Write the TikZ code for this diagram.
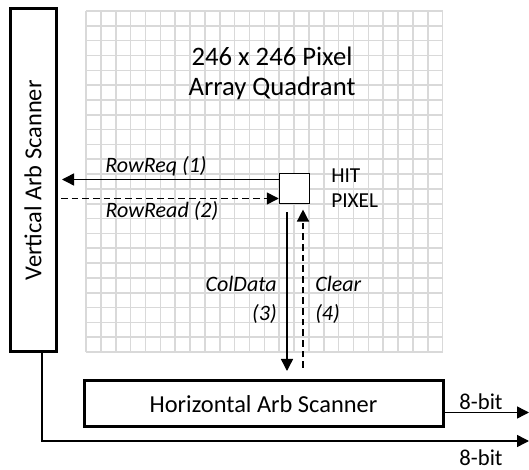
\documentclass[tikz,border=0pt]{standalone}
\usepackage{fontspec}
\setmainfont{Carlito}
\usepackage{xcolor}
\usepackage{tikz}
\usetikzlibrary{arrows.meta}

\begin{document}
\begin{tikzpicture}[x=0.75pt, y=0.75pt,
    gridline/.style={gray!30, line width=1.2pt},
    scanner/.style={draw, line width=2.25pt, inner sep=0pt, font=\fontsize{18.3}{22}\selectfont},
    sig/.style={line width=1.1pt, -{Triangle[length=9pt,width=9pt]}},
    dsig/.style={sig, dash pattern=on 5pt off 3pt},
    lbl/.style={inner sep=0pt, font=\fontsize{16.5}{22}\selectfont\itshape},
    txt/.style={inner sep=0pt, font=\fontsize{16}{19}\selectfont}]
    \useasboundingbox (0,0) rectangle (529,-470);

    % Pixel array grid
    \foreach \i in {0,...,24}
        \draw[gridline] ({86+14.86*\i},-11) -- ++(0,-341);
    \foreach \j in {0,...,23}
        \draw[gridline] (86,{-11-14.83*\j}) -- ++(356.6,0);
    \node[inner sep=0pt, align=center, font=\fontsize{20}{22.5}\selectfont] (title) at (272,-73)
        {246 x 246 Pixel\\Array Quadrant};

    % Scanners (sizes in pt: 1px = 0.75pt)
    \node[scanner, minimum width=34.5pt, minimum height=257.25pt] (vscan) at (33,-180.5)
        {\rotatebox{90}{Vertical Arb Scanner}};
    \node[scanner, minimum width=269.25pt, minimum height=34.5pt] (hscan) at (263.5,-404)
        {Horizontal Arb Scanner};

    % Hit pixel
    \node[draw, fill=white, line width=1.1pt, minimum size=22.5pt, inner sep=0pt] (hit) at (294.5,-188.5) {};
    \node[txt, anchor=west, align=left] (hitlbl) at (331,-188) {HIT\\PIXEL};

    % Row handshake
    \coordinate (reqtip) at (62,-179.5);
    \coordinate (readfoot) at (61,-198.5);
    \draw[sig] (hit.west |- reqtip) -- (reqtip);
    \draw[dsig] (readfoot) -- (hit.west |- readfoot);
    \node[lbl] (req) at (156,-166) {RowReq (1)};
    \node[lbl] (read) at (162,-211) {RowRead (2)};

    % Column handshake
    \coordinate (datatip) at (287,-371);
    \coordinate (clearfoot) at (303,-368);
    \draw[sig] ([yshift=-6pt]hit.south -| datatip) -- (datatip);
    \draw[dsig] (clearfoot) -- ([yshift=-4pt]hit.south -| clearfoot);
    \node[lbl, anchor=east, align=right] (data) at (277,-300) {ColData\\(3)};
    \node[lbl, anchor=west, align=left] (clear) at (315,-300) {Clear\\(4)};

    % Outputs
    \coordinate (outtip) at (529,-412.5);
    \coordinate (busturn) at (42,-441);
    \coordinate (bustip) at (529,-441);
    \draw[sig] (hscan.east |- outtip) -- (outtip);
    \draw[sig] (vscan.south -| busturn) -- (busturn) -- (bustip);
    \node[txt, font=\fontsize{17}{20}\selectfont] (hbits) at (481,-402) {8-bit};
    \node[txt, font=\fontsize{17}{20}\selectfont] (vbits) at (481,-458) {8-bit};
\end{tikzpicture}
\end{document}
